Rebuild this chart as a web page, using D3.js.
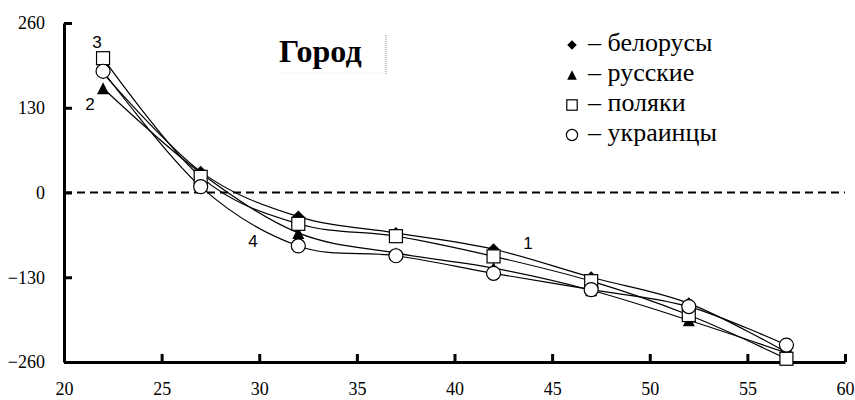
<!DOCTYPE html>
<html>
<head>
<meta charset="utf-8">
<script src="https://cdn.jsdelivr.net/npm/d3@7"></script>
<style>
  body { margin: 0; background: #fff; }
</style>
</head>
<body>
<script>
// age on x axis, deviation on y axis
var ages = [22, 27, 32, 37, 42, 47, 52, 57];
var belarusians = [183, 32, -37, -62, -87, -130, -170, -245];
var russians = [160, 30, -62, -93, -116, -150, -196, -246];
var poles = [206, 24, -48, -67, -98, -136, -188, -255];
var ukrainians = [186, 9, -82, -97, -124, -149, -175, -234];
var xTicks = [20, 25, 30, 35, 40, 45, 50, 55, 60];
var yTicks = [-260, -130, 0, 130, 260];
var legendNames = ["белорусы", "русские", "поляки", "украинцы"];
var lineNumbers = ["1", "2", "3", "4"];

var serif = "Liberation Serif, DejaVu Serif, serif";
var sans = "Liberation Sans, Arial, sans-serif";

var margin = {top: 23, bottom: 38, left: 64, right: 10},
    width = 845 - margin.left,
    height = 362 - margin.top;

var x = d3.scaleLinear().domain([20, 60]).range([0, width]);
var y = d3.scaleLinear().domain([-260, 260]).range([height, 0]);

var svg = d3.select("body").append("svg")
    .attr("width", 855)
    .attr("height", 400)
    .append("g")
    .attr("transform", "translate(" + margin.left + "," + margin.top + ")");

// zero line
svg.append("line")
    .attr("x1", 0).attr("x2", width)
    .attr("y1", y(0)).attr("y2", y(0))
    .attr("stroke", "#000")
    .attr("stroke-width", 2)
    .attr("stroke-dasharray", "8,5");

// axes
var yAxis = svg.append("g")
    .call(d3.axisLeft(y).tickValues(yTicks).tickSize(-8).tickSizeOuter(0).tickPadding(19));
var xAxis = svg.append("g")
    .attr("transform", "translate(0," + height + ")")
    .call(d3.axisBottom(x).tickValues(xTicks).tickSize(-8).tickSizeOuter(0).tickPadding(20));
[yAxis, xAxis].forEach(function(a){
    a.attr("font-family", serif).attr("font-size", 18);
    a.select(".domain").attr("stroke-width", 3);
    a.selectAll(".tick line").attr("stroke-width", 3);
    a.selectAll(".tick text").attr("fill", "#000");
});

var series = [
    {values: belarusians, shape: "diamond"},
    {values: russians, shape: "triangle"},
    {values: poles, shape: "square"},
    {values: ukrainians, shape: "circle"}
];

var line = d3.line()
    .x(function(d){ return x(d[0]); })
    .y(function(d){ return y(d[1]); })
    .curve(d3.curveCardinal.tension(0));

series.forEach(function(s){
    svg.append("path")
        .datum(ages.map(function(a, i){ return [a, s.values[i]]; }))
        .attr("fill", "none")
        .attr("stroke", "#000")
        .attr("stroke-width", 1.2)
        .attr("d", line);
});

function marker(g, shape, cx, cy, k) {
    if (shape == "diamond") {
        var r = 6 * k;
        g.append("path")
            .attr("d", "M" + cx + "," + (cy - r) + "L" + (cx + r) + "," + cy + "L" + cx + "," + (cy + r) + "L" + (cx - r) + "," + cy + "Z")
            .attr("fill", "#000");
    } else if (shape == "triangle") {
        var h = 12 * k;
        g.append("path")
            .attr("d", "M" + cx + "," + (cy - h / 2) + "L" + (cx + h / 2) + "," + (cy + h / 2) + "L" + (cx - h / 2) + "," + (cy + h / 2) + "Z")
            .attr("fill", "#000");
    } else if (shape == "square") {
        var a = 13 * k;
        g.append("rect")
            .attr("x", cx - a / 2).attr("y", cy - a / 2)
            .attr("width", a).attr("height", a)
            .attr("fill", "#fff").attr("stroke", "#000").attr("stroke-width", 1.2);
    } else {
        g.append("circle")
            .attr("cx", cx).attr("cy", cy).attr("r", 7 * k)
            .attr("fill", "#fff").attr("stroke", "#000").attr("stroke-width", 1.2);
    }
}

series.forEach(function(s){
    var g = svg.append("g");
    ages.forEach(function(a, i){
        marker(g, s.shape, x(a), y(s.values[i]), 1);
    });
});

// line numbers
var numPos = [[528, 249], [90, 110], [97, 48], [253, 247]];
lineNumbers.forEach(function(n, i){
    svg.append("text")
        .attr("x", numPos[i][0] - margin.left)
        .attr("y", numPos[i][1] - margin.top)
        .attr("text-anchor", "middle")
        .attr("font-family", sans)
        .attr("font-size", 17)
        .text(n);
});

// title
svg.append("text")
    .attr("x", 279 - margin.left)
    .attr("y", 62 - margin.top)
    .attr("font-family", serif)
    .attr("font-size", 32)
    .attr("font-weight", "bold")
    .text("Город");
svg.append("line")
    .attr("x1", 386 - margin.left).attr("x2", 386 - margin.left)
    .attr("y1", 35 - margin.top).attr("y2", 75 - margin.top)
    .attr("stroke", "#888").attr("stroke-width", 1).attr("stroke-dasharray", "1,1");
svg.append("line")
    .attr("x1", 282 - margin.left).attr("x2", 384 - margin.left)
    .attr("y1", 73 - margin.top).attr("y2", 73 - margin.top)
    .attr("stroke", "#e4e4e4").attr("stroke-width", 1).attr("stroke-dasharray", "1,1");

// legend
var legendY = [45, 75, 105, 135];
legendNames.forEach(function(name, i){
    var g = svg.append("g");
    marker(g, series[i].shape, 572 - margin.left, legendY[i] - margin.top, 0.8);
    g.append("text")
        .attr("x", 588 - margin.left)
        .attr("y", legendY[i] + 6 - margin.top)
        .attr("font-family", serif)
        .attr("font-size", 26)
        .text("– " + name);
});
</script>
</body>
</html>
